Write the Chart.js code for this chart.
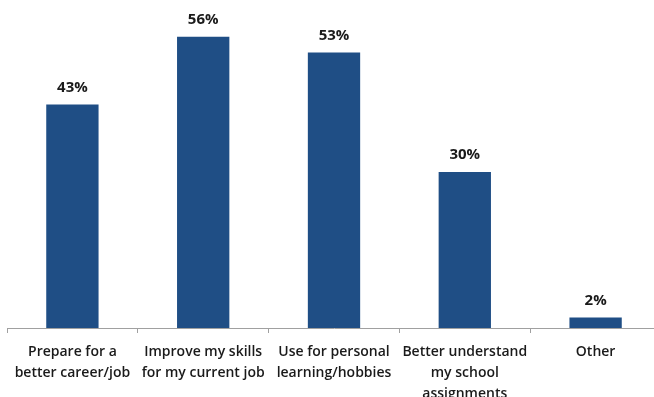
<!DOCTYPE html>
<html>
<head>
<meta charset="utf-8">
<script src="https://cdn.jsdelivr.net/npm/chart.js@4.4.1/dist/chart.umd.min.js"></script>
<style>
  html, body { margin: 0; padding: 0; background: #fff; overflow: hidden; }
  #wrap { width: 670px; height: 397px; }
</style>
</head>
<body>
<div id="wrap"><canvas id="c" width="670" height="397"></canvas></div>
<script>
// === データ ===
const categories = [
  ['Prepare for a', 'better career/job'],
  ['Improve my skills', 'for my current job'],
  ['Use for personal', 'learning/hobbies'],
  ['Better understand', 'my school', 'assignments'],
  ['Other']
];
const percentValues = [43, 56, 53, 30, 2];
const valueLabels = ['43%', '56%', '53%', '30%', '2%'];

const barColor = '#1F4E85';

// 棒の上にラベルを描く簡易プラグイン
const topLabels = {
  id: 'topLabels',
  afterDatasetsDraw(chart) {
    const ctx = chart.ctx;
    const meta = chart.getDatasetMeta(0);
    ctx.save();
    ctx.font = 'bold 15px "Open Sans", sans-serif';
    ctx.fillStyle = '#1a1a1a';
    ctx.textAlign = 'center';
    ctx.textBaseline = 'middle';
    meta.data.forEach((bar, i) => {
      ctx.fillText(valueLabels[i], bar.x, bar.y - 17);
    });
    ctx.restore();
  }
};

new Chart(document.getElementById('c'), {
  type: 'bar',
  data: {
    labels: categories,
    datasets: [{ data: percentValues, backgroundColor: barColor, barPercentage: 0.8, categoryPercentage: 0.5 }]
  },
  options: {
    responsive: false,
    animation: false,
    layout: { padding: { left: 7, right: 9, top: 16, bottom: 0 } },
    plugins: { legend: { display: false }, tooltip: { enabled: false } },
    scales: {
      y: { display: false, min: 0, max: 60 },
      x: {
        offset: true,
        afterFit: (axis) => { axis.height = 69; },
        border: { color: '#a0a0a0', width: 1 },
        grid: { drawOnChartArea: false, offset: true, tickLength: 5, color: '#a0a0a0' },
        ticks: {
          color: '#1a1a1a',
          padding: 9,
          maxRotation: 0,
          autoSkip: false,
          font: { family: '"Open Sans", sans-serif', size: 14, weight: '600', lineHeight: 1.5 }
        }
      }
    }
  },
  plugins: [topLabels]
});
</script>
</body>
</html>
